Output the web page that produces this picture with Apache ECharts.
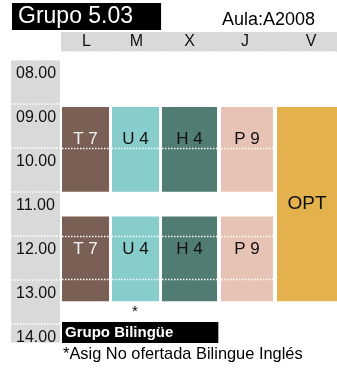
<!DOCTYPE html>
<html><head><meta charset="utf-8">
<script src="https://cdn.jsdelivr.net/npm/echarts@6/dist/echarts.min.js"></script>
<style>html,body{margin:0;padding:0;background:#fff}#c{width:337px;height:369px}</style>
</head><body><div id="c"></div>
<script>
// ---- data ----
const days = ['L', 'M', 'X', 'J', 'V'];
const timeLabels = ['08.00', '09.00', '10.00', '11.00', '12.00', '13.00', '14.00'];
const blockDay = [0, 1, 2, 3, 0, 1, 2, 3, 4];
const blockStart = [9, 9, 9, 9, 11.5, 11.5, 11.5, 11.5, 9];
const blockEnd = [11, 11, 11, 11, 13.5, 13.5, 13.5, 13.5, 13.5];
const blockLabel = ['T 7', 'U 4', 'H 4', 'P 9', 'T 7', 'U 4', 'H 4', 'P 9', 'OPT'];
const groupTitle = 'Grupo 5.03';
const roomText = 'Aula:A2008';
const bilingualTitle = 'Grupo Bilingüe';
const noteMark = '*';
const noteText = '*Asig No ofertada Bilingue Inglés';

// ---- styles / layout ----
const FONT = '"Liberation Sans", Arial, Helvetica, sans-serif';
const subjectStyle = {
  'T 7': { fill: '#7a6054', text: '#f2f2f2', lines: true },
  'U 4': { fill: '#86cdcb', text: '#111111', lines: true },
  'H 4': { fill: '#517c74', text: '#111111', lines: true },
  'P 9': { fill: '#e7c3b6', text: '#111111', lines: true },
  'OPT': { fill: '#e3b24d', text: '#111111', lines: false }
};
const colLeft = [1, 51, 101, 160, 216];
const colRight = [48, 98, 156, 212, 276];
const headerShift = [1, 1, 0, -2, 4];
const GRAY = '#d9d9d9';
const Y_MIN = 8, Y_MAX = 14.45;

const chart = echarts.init(document.getElementById('c'), null, { renderer: 'canvas' });

const blockData = blockDay.map((d, i) => [d, blockStart[i], blockEnd[i]]);
const headerData = days.map((d, i) => [i]);

const option = {
  backgroundColor: '#ffffff',
  animation: false,
  textStyle: { fontFamily: FONT },
  title: [
    { text: groupTitle, left: 12, top: 3, backgroundColor: '#000', padding: [0, 28, 0, 6],
      textStyle: { color: '#fff', fontSize: 23, fontWeight: 'normal', lineHeight: 27, fontFamily: FONT } },
    { text: roomText, left: 222, top: 11, padding: 0,
      textStyle: { color: '#000', fontSize: 18, fontWeight: 'normal', fontFamily: FONT } },
    { text: bilingualTitle, left: 62, top: 322, backgroundColor: '#000', padding: [0, 45, 0, 3],
      textStyle: { color: '#fff', fontSize: 15, fontWeight: 'bold', lineHeight: 21, fontFamily: FONT } },
    { text: noteMark, left: 132, top: 304, padding: 0,
      textStyle: { color: '#000', fontSize: 15, fontWeight: 'normal', fontFamily: FONT } },
    { text: noteText, left: 63, top: 346, padding: 0,
      textStyle: { color: '#000', fontSize: 16.4, fontWeight: 'normal', fontFamily: FONT } }
  ],
  grid: [
    { left: 11, width: 49, top: 60, height: 283, show: true, backgroundColor: GRAY, borderWidth: 0 },
    { left: 61, right: 0, top: 60, height: 283, show: false },
    { left: 61, right: 0, top: 32, height: 20, show: true, backgroundColor: GRAY, borderWidth: 0 }
  ],
  xAxis: [
    { gridIndex: 0, type: 'value', min: 0, max: 1, show: false },
    { gridIndex: 1, type: 'value', min: 0, max: 276, show: false },
    { gridIndex: 2, type: 'value', min: 0, max: 276, position: 'bottom',
      axisLine: { show: true, onZero: false, lineStyle: { color: '#ffffff', type: [1.5, 1.5], width: 1.5 } },
      axisTick: { show: false }, axisLabel: { show: false }, splitLine: { show: false } }
  ],
  yAxis: [
    { gridIndex: 0, type: 'value', inverse: true, min: Y_MIN, max: Y_MAX, interval: 1,
      axisLine: { show: false }, axisTick: { show: false },
      axisLabel: {
        inside: true, margin: 5, verticalAlign: 'top', padding: [6, 0, 0, 0],
        fontSize: 16, lineHeight: 16, color: '#111', fontFamily: FONT,
        showMaxLabel: false,
        formatter: v => (Number.isInteger(v) && v - Y_MIN < timeLabels.length) ? timeLabels[v - Y_MIN] : ''
      },
      splitLine: { show: true, lineStyle: { color: '#ffffff', type: [1.5, 1.5], width: 1.5 } }
    },
    { gridIndex: 1, type: 'value', inverse: true, min: Y_MIN, max: Y_MAX, interval: 1, show: false },
    { gridIndex: 2, type: 'value', min: 0, max: 1, show: false }
  ],
  series: [
    {
      type: 'custom', xAxisIndex: 1, yAxisIndex: 1, data: blockData, clip: false,
      renderItem(params, api) {
        const d = api.value(0), s = api.value(1), e = api.value(2);
        const lab = blockLabel[params.dataIndex];
        const st = subjectStyle[lab];
        const p1 = api.coord([colLeft[d], s]);
        const p2 = api.coord([colRight[d], e]);
        const x = p1[0], y = p1[1] + 3, w = p2[0] - p1[0], h = p2[1] - y;
        const children = [{ type: 'rect', shape: { x, y, width: w, height: h }, style: { fill: st.fill } }];
        if (st.lines) {
          for (let hr = Math.floor(s) + 1; hr < e; hr++) {
            const py = Math.round(api.coord([0, hr])[1]) + 0.5;
            children.push({ type: 'line', shape: { x1: x, y1: py, x2: x + w, y2: py },
              style: { stroke: '#ffffff', lineWidth: 1.5, lineDash: [1.5, 1.5] } });
          }
        }
        const shift = (e - s) > 3 ? 0 : -10;
        children.push({ type: 'text', x: x + w / 2, y: y + h / 2 + shift,
          style: { text: lab, fill: st.text, fontSize: lab === 'OPT' ? 19 : 17, fontFamily: FONT,
            align: 'center', verticalAlign: 'middle' } });
        return { type: 'group', children };
      }
    },
    {
      type: 'custom', xAxisIndex: 2, yAxisIndex: 2, data: headerData, clip: false,
      renderItem(params, api) {
        const i = api.value(0);
        const p = api.coord([(colLeft[i] + colRight[i]) / 2 + headerShift[i], 0.5]);
        return { type: 'text', x: p[0], y: p[1],
          style: { text: days[i], fill: '#111', fontSize: 16, fontFamily: FONT, align: 'center', verticalAlign: 'middle' } };
      }
    }
  ]
};
chart.setOption(option);
</script></body></html>
